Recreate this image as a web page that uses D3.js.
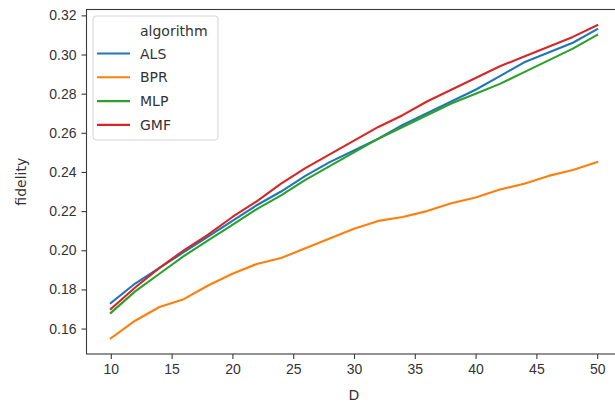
<!DOCTYPE html>
<html>
<head>
<meta charset="utf-8">
<script src="https://cdn.jsdelivr.net/npm/d3@7"></script>
<style>
  html, body { margin: 0; padding: 0; background: #fff; overflow: hidden; }
  svg { display: block; font-family: "DejaVu Sans", sans-serif; }
</style>
</head>
<body>
<svg id="chart"></svg>
<script>
'use strict';

// ── Data ──────────────────────────────────────────────────
const dims = [10, 12, 14, 16, 18, 20, 22, 24, 26, 28, 30, 32, 34, 36, 38, 40, 42, 44, 46, 48, 50];

const als = [0.173, 0.183, 0.191, 0.199, 0.207, 0.215, 0.223, 0.230, 0.238, 0.245, 0.251,
             0.257, 0.264, 0.270, 0.276, 0.282, 0.289, 0.296, 0.301, 0.306, 0.313];
const bpr = [0.155, 0.164, 0.171, 0.175, 0.182, 0.188, 0.193, 0.196, 0.201, 0.206, 0.211,
             0.215, 0.217, 0.220, 0.224, 0.227, 0.231, 0.234, 0.238, 0.241, 0.245];
const mlp = [0.168, 0.179, 0.188, 0.197, 0.205, 0.213, 0.221, 0.228, 0.236, 0.243, 0.250,
             0.257, 0.263, 0.269, 0.275, 0.280, 0.285, 0.291, 0.297, 0.303, 0.310];
const gmf = [0.170, 0.181, 0.191, 0.200, 0.208, 0.217, 0.225, 0.234, 0.242, 0.249, 0.256,
             0.263, 0.269, 0.276, 0.282, 0.288, 0.294, 0.299, 0.304, 0.309, 0.315];

const algorithms = ['ALS', 'BPR', 'MLP', 'GMF'];
const seriesValues = [als, bpr, mlp, gmf];
const colors = ['#1f77b4', '#ff7f0e', '#2ca02c', '#d62728'];

const xTicks = [10, 15, 20, 25, 30, 35, 40, 45, 50];
const yTicks = [0.16, 0.18, 0.20, 0.22, 0.24, 0.26, 0.28, 0.30, 0.32];

// ── Layout ────────────────────────────────────────────────
const W = 615, H = 403;
const plot = { left: 86.5, right: 621.5, top: 9.5, bottom: 354 };
const textColor = '#333';
const spineColor = '#3a3a3a';

const svg = d3.select('#chart').attr('width', W).attr('height', H);

// matplotlib-style 5% margins
const pad = (lo, hi) => { const m = (hi - lo) * 0.05; return [lo - m, hi + m]; };
const allVals = seriesValues.flat();

const x = d3.scaleLinear()
  .domain(pad(d3.min(dims), d3.max(dims)))
  .range([plot.left, plot.right]);
const y = d3.scaleLinear()
  .domain(pad(d3.min(allVals), d3.max(allVals)))
  .range([plot.bottom, plot.top]);

// ── Axes ──────────────────────────────────────────────────
const xAxis = svg.append('g')
  .attr('transform', `translate(0,${plot.bottom})`)
  .call(d3.axisBottom(x).tickValues(xTicks).tickSize(5).tickPadding(5).tickFormat(d3.format('d')));
const yAxis = svg.append('g')
  .attr('transform', `translate(${plot.left},0)`)
  .call(d3.axisLeft(y).tickValues(yTicks).tickSize(5).tickPadding(5).tickFormat(d3.format('.2f')));

[xAxis, yAxis].forEach(a => {
  a.select('.domain').remove();
  a.selectAll('.tick line').attr('stroke', spineColor).attr('stroke-width', 1.1);
  a.selectAll('.tick text').attr('fill', textColor).attr('font-size', 14);
});

// Axis labels
svg.append('text')
  .attr('x', (x(10) + x(50)) / 2)
  .attr('y', 395)
  .attr('text-anchor', 'middle')
  .attr('dominant-baseline', 'central')
  .attr('fill', textColor)
  .attr('font-size', 14)
  .text('D');

svg.append('text')
  .attr('transform', `translate(21,${(plot.top + plot.bottom) / 2}) rotate(-90)`)
  .attr('text-anchor', 'middle')
  .attr('dominant-baseline', 'central')
  .attr('fill', textColor)
  .attr('font-size', 14)
  .text('fidelity');

// ── Lines ─────────────────────────────────────────────────
const lineGen = d3.line()
  .x((d, i) => x(dims[i]))
  .y(d => y(d));

seriesValues.forEach((vals, k) => {
  svg.append('path')
    .datum(vals)
    .attr('d', lineGen)
    .attr('fill', 'none')
    .attr('stroke', colors[k])
    .attr('stroke-width', 2.1)
    .attr('stroke-linejoin', 'round')
    .attr('stroke-linecap', 'square');
});

// Frame (all four spines)
svg.append('rect')
  .attr('x', plot.left).attr('y', plot.top)
  .attr('width', plot.right - plot.left)
  .attr('height', plot.bottom - plot.top)
  .attr('fill', 'none')
  .attr('stroke', spineColor)
  .attr('stroke-width', 1.1);

// ── Legend ────────────────────────────────────────────────
const lg = svg.append('g').attr('transform', 'translate(93,16)');
lg.append('rect')
  .attr('width', 125).attr('height', 124)
  .attr('rx', 3)
  .attr('fill', '#fff').attr('fill-opacity', 0.8)
  .attr('stroke', '#d5d5d5');

lg.append('text')
  .attr('x', 47).attr('y', 15)
  .attr('dominant-baseline', 'central')
  .attr('fill', textColor)
  .attr('font-size', 14)
  .text('algorithm');

algorithms.forEach((name, i) => {
  const ly = 37.5 + i * 23.8;
  lg.append('line')
    .attr('x1', 4).attr('x2', 37)
    .attr('y1', ly).attr('y2', ly)
    .attr('stroke', colors[i])
    .attr('stroke-width', 2.1);
  lg.append('text')
    .attr('x', 47).attr('y', ly)
    .attr('dominant-baseline', 'central')
    .attr('fill', textColor)
    .attr('font-size', 14)
    .text(name);
});
</script>
</body>
</html>
